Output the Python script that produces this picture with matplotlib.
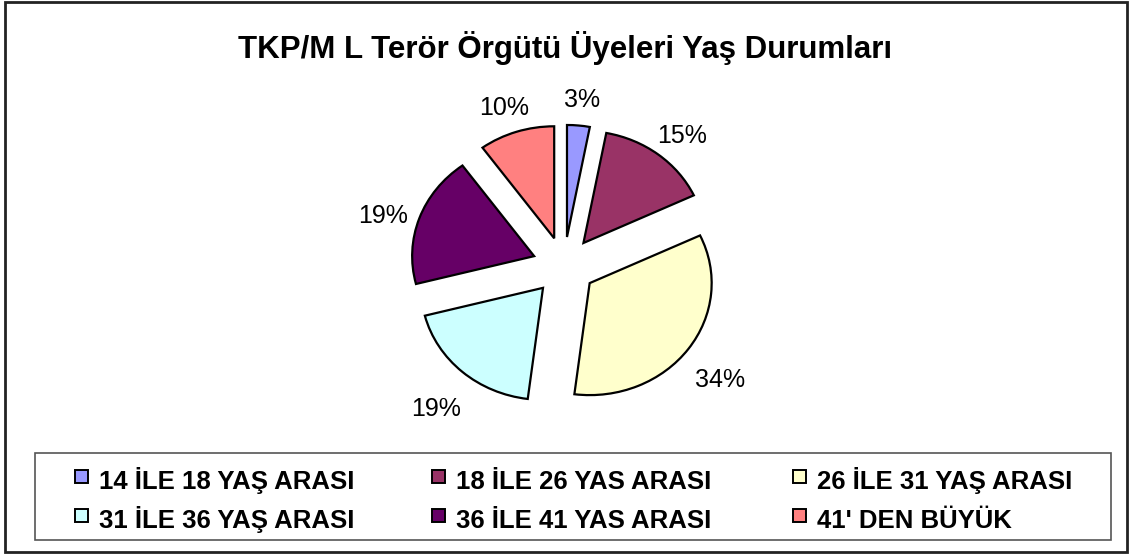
import matplotlib
matplotlib.use("Agg")
import matplotlib.pyplot as plt
from matplotlib.patches import Rectangle

plt.rcParams['font.family'] = ['Liberation Sans', 'DejaVu Sans']

title = "TKP/M L Terör Örgütü Üyeleri Yaş Durumları"
categories = ["14 İLE 18 YAŞ ARASI", "18 İLE 26 YAS ARASI", "26 İLE 31 YAŞ ARASI",
              "31 İLE 36 YAŞ ARASI", "36 İLE 41 YAS ARASI", "41' DEN BÜYÜK"]
values = [3, 15, 34, 19, 19, 10]
colors = ["#9999FF", "#993366", "#FFFFCC", "#CCFFFF", "#660066", "#FF8080"]

W, H = 1129, 554
fig = plt.figure(figsize=(W / 100, H / 100), dpi=100)
fig.patch.set_facecolor("white")

# pie axes: center at (564,266) px, x-scale 122 px/unit, y-scale 112 px/unit
xs, ys = 122, 112
xl, yl = 2.4, 2.2
cx, cy = 564, 266
ax = fig.add_axes([(cx - xl * xs) / W, (H - cy - yl * ys) / H, 2 * xl * xs / W, 2 * yl * ys / H])
wedges, texts, autotexts = ax.pie(
    values, colors=colors, startangle=90, counterclock=False,
    explode=[0.26] * len(values), autopct='%1.0f%%', pctdistance=1.32,
    wedgeprops=dict(edgecolor="black", linewidth=1.6),
    textprops=dict(fontsize=18, color="black"))
# Excel anchors the labels slightly lower than matplotlib does
for t in autotexts:
    px, py = t.get_position()
    t.set_position((px, py - 0.09))
ax.set_aspect('auto')
ax.set_xlim(-xl, xl)
ax.set_ylim(-yl, yl)
ax.axis('off')

fig.text(0.5, 1 - 48 / H, title, ha='center', va='center', fontsize=22.5, fontweight='bold')

# legend frame
fig.patches.append(Rectangle((35 / W, (H - 540) / H), 1076 / W, 87 / H, transform=fig.transFigure,
                             fill=False, edgecolor="#555555", linewidth=1.2))

# legend entries laid out row by row (3 columns), positions in pixels
ncols = 3
col_x = [75, 432, 793]
row_top = [470, 509]      # marker top per row
marker = 13
for i, (lab, col) in enumerate(zip(categories, colors)):
    r, c = divmod(i, ncols)
    x0 = col_x[c]
    y0 = row_top[r]
    fig.patches.append(Rectangle((x0 / W, (H - y0 - marker) / H), marker / W, marker / H,
                                 transform=fig.transFigure, facecolor=col,
                                 edgecolor="black", linewidth=1.4))
    fig.text((x0 + 24) / W, (H - (y0 + 19)) / H, lab, ha='left', va='baseline',
             fontsize=18.5, fontweight='bold')

fig.patches.append(Rectangle((5 / W, 2 / H), 1122 / W, 550 / H, transform=fig.transFigure,
                             fill=False, edgecolor="#222222", linewidth=2))

fig.savefig("out.png", dpi=100)
